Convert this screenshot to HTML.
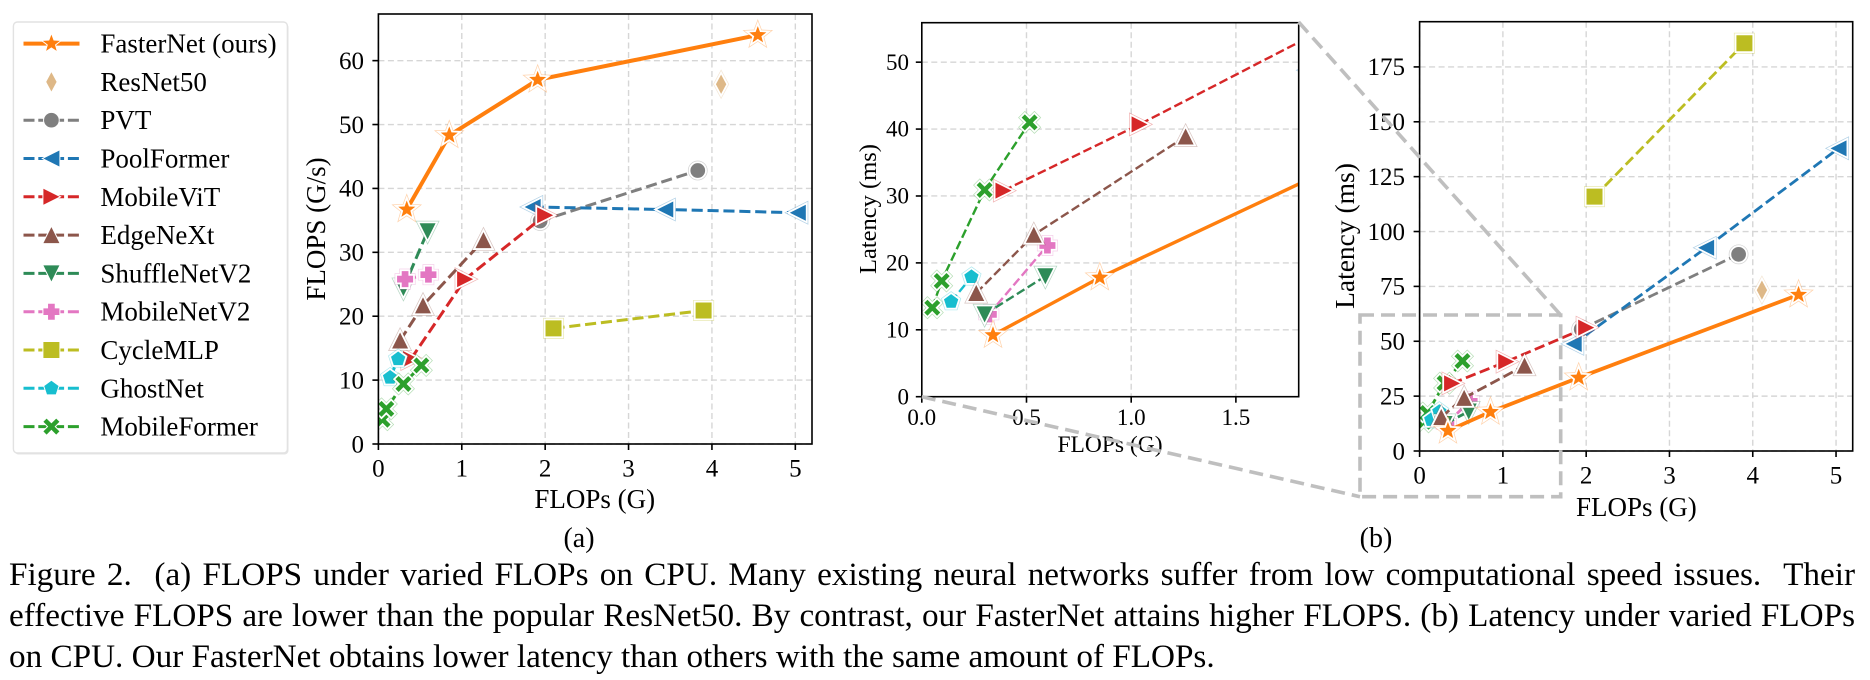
<!DOCTYPE html>
<html lang="en">
<head>
<meta charset="utf-8">
<title>FLOPS and latency under varied FLOPs</title>
<style>
  html, body { margin: 0; padding: 0; background: #fff; }
  #page { position: relative; width: 1870px; height: 680px; overflow: hidden; background: #fff; }
  #figure { position: absolute; left: 0; top: 0; }
  text { font-family: "Liberation Serif", serif; fill: #000; }
  .cap { position: absolute; left: 9px; width: 1846px; height: 41px; line-height: 41px; white-space: nowrap;
         font-family: "Liberation Serif", serif; font-size: 33.2px; color: #000; }
  .just { text-align: justify; text-align-last: justify; white-space: normal; }
</style>
</head>
<body>
<div id="page">
  <svg id="figure" width="1870" height="680" viewBox="0 0 1870 680" xmlns="http://www.w3.org/2000/svg"></svg>
  <div class="cap just" style="top:554px">Figure 2.&nbsp; (a) FLOPS under varied FLOPs on CPU. Many existing neural networks suffer from low computational speed issues.&nbsp; Their</div>
  <div class="cap just" style="top:595px;word-spacing:-4px">effective FLOPS are lower than the popular ResNet50. By contrast, our FasterNet attains higher FLOPS. (b) Latency under varied FLOPs</div>
  <div class="cap" style="top:636px">on CPU. Our FasterNet obtains lower latency than others with the same amount of FLOPs.</div>
</div>
<script>
// ---- Model names ----
const modelNames = ['FasterNet (ours)', 'ResNet50', 'PVT', 'PoolFormer', 'MobileViT', 'EdgeNeXt', 'ShuffleNetV2', 'MobileNetV2', 'CycleMLP', 'GhostNet', 'MobileFormer'];

// ---- FLOPs (G) per model ----
const flopsFasterNet = [0.34, 0.85, 1.91, 4.55];
const flopsResNet50 = [4.11];
const flopsPVT = [1.94, 3.83];
const flopsPoolFormer = [1.85, 3.44, 5.03];
const flopsMobileViT = [0.39, 1.04, 2.0];
const flopsEdgeNeXt = [0.26, 0.535, 1.26];
const flopsShuffleNetV2 = [0.3, 0.59];
const flopsMobileNetV2 = [0.32, 0.6];
const flopsCycleMLP = [2.1, 3.9];
const flopsGhostNet = [0.14, 0.237];
const flopsMobileFormer = [0.05, 0.095, 0.3, 0.515];

// ---- Panel (a): FLOPS (G/s) per model ----
const rateFasterNet = [36.7, 48.3, 57, 64];
const rateResNet50 = [56.3];
const ratePVT = [34.9, 42.8];
const ratePoolFormer = [37.1, 36.7, 36.2];
const rateMobileViT = [13.3, 25.8, 35.8];
const rateEdgeNeXt = [16.2, 21.7, 31.9];
const rateShuffleNetV2 = [24.4, 33.3];
const rateMobileNetV2 = [25.8, 26.5];
const rateCycleMLP = [18.1, 20.9];
const rateGhostNet = [10.4, 13.3];
const rateMobileFormer = [3.8, 5.5, 9.4, 12.3];

// ---- Panel (b): Latency (ms) per model ----
const latencyFasterNet = [9.2, 17.8, 33.4, 71.2];
const latencyResNet50 = [73.3];
const latencyPVT = [55.5, 89.6];
const latencyPoolFormer = [48.8, 92.6, 137.9];
const latencyMobileViT = [30.8, 40.7, 56.2];
const latencyEdgeNeXt = [15.5, 24.2, 38.9];
const latencyShuffleNetV2 = [12.3, 18];
const latencyMobileNetV2 = [12.3, 22.6];
const latencyCycleMLP = [115.9, 185.8];
const latencyGhostNet = [14.2, 17.9];
const latencyMobileFormer = [13.3, 17.3, 30.9, 41];

// ---- Tick labels ----
const panelAXTicks = [0, 1, 2, 3, 4, 5];
const panelAYTicks = [0, 10, 20, 30, 40, 50, 60];
const insetXTicks = [0, 0.5, 1.0, 1.5];
const insetXLabels = ['0.0', '0.5', '1.0', '1.5'];
const insetYTicks = [0, 10, 20, 30, 40, 50];
const panelBXTicks = [0, 1, 2, 3, 4, 5];
const panelBYTicks = [0, 25, 50, 75, 100, 125, 150, 175];

// ---- Styling of series ----
const colors = ['#ff7f0e', '#deb887', '#7f7f7f', '#1f77b4', '#d62728', '#8c564b', '#2e8b57', '#e377c2', '#bcbd22', '#17becf', '#2ca02c'];
const markers = ['star', 'diamond', 'circle', 'left', 'right', 'up', 'down', 'plus', 'square', 'pentagon', 'cross'];
const slugs = ['fasternet', 'resnet50', 'pvt', 'poolformer', 'mobilevit', 'edgenext', 'shufflenetv2', 'mobilenetv2', 'cyclemlp', 'ghostnet', 'mobileformer'];
const drawOrderA = [1, 0, 2, 3, 4, 5, 6, 7, 8, 9, 10];
const drawOrderB = [10, 9, 8, 7, 6, 2, 3, 4, 5, 1, 0];
const flopsAll = [flopsFasterNet, flopsResNet50, flopsPVT, flopsPoolFormer, flopsMobileViT, flopsEdgeNeXt, flopsShuffleNetV2, flopsMobileNetV2, flopsCycleMLP, flopsGhostNet, flopsMobileFormer];
const rateAll = [rateFasterNet, rateResNet50, ratePVT, ratePoolFormer, rateMobileViT, rateEdgeNeXt, rateShuffleNetV2, rateMobileNetV2, rateCycleMLP, rateGhostNet, rateMobileFormer];
const latencyAll = [latencyFasterNet, latencyResNet50, latencyPVT, latencyPoolFormer, latencyMobileViT, latencyEdgeNeXt, latencyShuffleNetV2, latencyMobileNetV2, latencyCycleMLP, latencyGhostNet, latencyMobileFormer];

const NS = 'http://www.w3.org/2000/svg';
const root = document.getElementById('figure');

function mk(tag, attrs, parent) {
  const el = document.createElementNS(NS, tag);
  for (const k in attrs) el.setAttribute(k, attrs[k]);
  (parent || root).appendChild(el);
  return el;
}

function polyPath(pts, cx, cy) {
  return 'M' + pts.map(p => (cx + p[0]).toFixed(2) + ' ' + (cy + p[1]).toFixed(2)).join('L') + 'Z';
}

function markerPath(kind, cx, cy, r) {
  if (kind === 'circle') {
    const c = r * 0.92;
    return 'M' + (cx - c) + ' ' + cy + 'A' + c + ' ' + c + ' 0 1 0 ' + (cx + c) + ' ' + cy + 'A' + c + ' ' + c + ' 0 1 0 ' + (cx - c) + ' ' + cy + 'Z';
  }
  let pts = [];
  if (kind === 'star') {
    const R = r * 1.12;
    for (let i = 0; i < 10; i++) {
      const a = -Math.PI / 2 + i * Math.PI / 5;
      const q = i % 2 ? R * 0.42 : R;
      pts.push([q * Math.cos(a), q * Math.sin(a)]);
    }
  } else if (kind === 'pentagon') {
    for (let i = 0; i < 5; i++) {
      const a = -Math.PI / 2 + i * 2 * Math.PI / 5;
      pts.push([r * 0.94 * Math.cos(a), r * 0.94 * Math.sin(a)]);
    }
  } else if (kind === 'diamond') {
    pts = [[0, -r * 1.2], [r * 0.65, 0], [0, r * 1.2], [-r * 0.65, 0]];
  } else if (kind === 'square') {
    pts = [[-r, -r], [r, -r], [r, r], [-r, r]];
  } else if (kind === 'up') {
    pts = [[0, -r], [r, r], [-r, r]];
  } else if (kind === 'down') {
    pts = [[0, r], [-r, -r], [r, -r]];
  } else if (kind === 'left') {
    pts = [[-r, 0], [r, -r], [r, r]];
  } else if (kind === 'right') {
    pts = [[r, 0], [-r, r], [-r, -r]];
  } else if (kind === 'plus') {
    const a = r * 0.42;
    pts = [[-a, -r], [a, -r], [a, -a], [r, -a], [r, a], [a, a], [a, r], [-a, r], [-a, a], [-r, a], [-r, -a], [-a, -a]];
  } else if (kind === 'cross') {
    const a = r * 0.4;
    pts = [[-r, -r + a], [-r + a, -r], [0, -a], [r - a, -r], [r, -r + a], [a, 0], [r, r - a], [r - a, r], [0, a], [-r + a, r], [-r, r - a], [-a, 0]];
  }
  return polyPath(pts, cx, cy);
}

function drawMarker(parent, kind, cx, cy, r, color, halo) {
  const d = markerPath(kind, cx, cy, r);
  const g = mk('g', {}, parent);
  if (halo) {
    mk('path', { d: d, fill: 'none', stroke: color, 'stroke-opacity': 0.35, 'stroke-width': 5, 'stroke-miterlimit': 6 }, g);
  }
  mk('path', { d: d, fill: color, stroke: '#fff', 'stroke-width': halo ? 3.6 : 2, 'stroke-miterlimit': 6 }, g);
  mk('path', { d: d, fill: color }, g);
  return g;
}

function label(parent, str, x, y, size, anchor, rotate) {
  const t = mk('text', { x: x, y: y, 'font-size': size, 'text-anchor': anchor || 'middle' }, parent);
  if (rotate) t.setAttribute('transform', 'rotate(-90 ' + x + ' ' + y + ')');
  t.textContent = str;
  return t;
}

function drawPanel(cfg) {
  const g = mk('g', {});
  
  
  const sx = v => cfg.left + v / cfg.xMax * (cfg.right - cfg.left);
  const sy = v => cfg.bottom - v / cfg.yMax * (cfg.bottom - cfg.top);

  const clipId = cfg.name + '-clip';
  const cp = mk('clipPath', { id: clipId }, g);
  mk('rect', { x: cfg.left, y: cfg.top, width: cfg.right - cfg.left, height: cfg.bottom - cfg.top }, cp);

  const gridG = mk('g', { stroke: '#d6d6d6', 'stroke-width': 1.4, 'stroke-dasharray': '6 3.5', fill: 'none' }, g);
  
  
  cfg.xTicks.forEach(v => {
    mk('line', { x1: sx(v), x2: sx(v), y1: cfg.top, y2: cfg.bottom }, gridG);
  });
  cfg.yTicks.forEach(v => {
    mk('line', { x1: cfg.left, x2: cfg.right, y1: sy(v), y2: sy(v) }, gridG);
  });

  const plot = mk('g', { 'clip-path': 'url(#' + clipId + ')' }, g);
  cfg.order.forEach(i => {
    const xs = flopsAll[i];
    const ys = cfg.values[i];
    const sg = mk('g', {}, plot);
    
    
    if (xs.length > 1) {
      const pts = xs.map((x, k) => sx(x).toFixed(2) + ',' + sy(ys[k]).toFixed(2)).join(' ');
      const solid = i === 0;
      const lw = solid ? cfg.solidWidth : cfg.dashWidth;
      const ln = mk('polyline', { points: pts, fill: 'none', stroke: colors[i], 'stroke-width': lw }, sg);
      if (!solid) ln.setAttribute('stroke-dasharray', (lw * 3.7).toFixed(1) + ' ' + (lw * 1.6).toFixed(1));
      
      
    }
    xs.forEach((x, k) => {
      const m = drawMarker(sg, markers[i], sx(x), sy(ys[k]), 8, colors[i], true);
      
      
    });
  });

  const axes = mk('g', { stroke: '#000', 'stroke-width': 1.6, fill: 'none' }, g);
  
  
  mk('rect', { x: cfg.left, y: cfg.top, width: cfg.right - cfg.left, height: cfg.bottom - cfg.top }, axes);
  cfg.xTicks.forEach((v, k) => {
    mk('line', { x1: sx(v), x2: sx(v), y1: cfg.bottom, y2: cfg.bottom + 6 }, axes);
    const t = label(g, cfg.xLabels ? cfg.xLabels[k] : String(v), sx(v), cfg.xTickY, cfg.tickSize);
    
    
  });
  cfg.yTicks.forEach(v => {
    mk('line', { x1: cfg.left - 6, x2: cfg.left, y1: sy(v), y2: sy(v) }, axes);
    const t = label(g, String(v), cfg.yTickX, sy(v) + cfg.tickSize * 0.33, cfg.tickSize, 'end');
    
    
  });

  const xt = label(g, cfg.xTitle, cfg.xTitlePos[0], cfg.xTitlePos[1], cfg.xTitleSize);
  
  
  const yt = label(g, cfg.yTitle, cfg.yTitlePos[0], cfg.yTitlePos[1], cfg.yTitleSize, 'middle', true);
  
  
}

drawPanel({
  name: 'panel-a-flops-chart', left: 378.4, right: 812, top: 14, bottom: 444, xMax: 5.2, yMax: 67.3,
  xTicks: panelAXTicks, yTicks: panelAYTicks, values: rateAll, order: drawOrderA,
  solidWidth: 4, dashWidth: 3, tickSize: 25, xTickY: 476.5, yTickX: 364,
  xTitle: 'FLOPs (G)', xTitlePos: [594.7, 508], xTitleSize: 27,
  yTitle: 'FLOPS (G/s)', yTitlePos: [325, 229], yTitleSize: 27
});

drawPanel({
  name: 'panel-b-latency-inset', left: 921.8, right: 1298.7, top: 22.7, bottom: 396.7, xMax: 1.8, yMax: 55.9,
  xTicks: insetXTicks, xLabels: insetXLabels, yTicks: insetYTicks, values: latencyAll, order: drawOrderB,
  solidWidth: 3.4, dashWidth: 2.4, tickSize: 23, xTickY: 425, yTickX: 909,
  xTitle: 'FLOPs (G)', xTitlePos: [1110, 452], xTitleSize: 23.5,
  yTitle: 'Latency (ms)', yTitlePos: [876, 209], yTitleSize: 24.5
});

drawPanel({
  name: 'panel-b-latency-chart', left: 1419.6, right: 1852.7, top: 21.7, bottom: 451, xMax: 5.2, yMax: 195.6,
  xTicks: panelBXTicks, yTicks: panelBYTicks, values: latencyAll, order: drawOrderB,
  solidWidth: 3.8, dashWidth: 2.8, tickSize: 25, xTickY: 483.5, yTickX: 1405,
  xTitle: 'FLOPs (G)', xTitlePos: [1636.4, 516], xTitleSize: 27,
  yTitle: 'Latency (ms)', yTitlePos: [1354, 236], yTitleSize: 27.5
});

// zoom indicator
const zoomG = mk('g', { fill: 'none', stroke: '#bfbfbf', 'stroke-width': 3.6, 'stroke-dasharray': '14 7' });


mk('rect', { x: 1360, y: 315, width: 200.7, height: 181.7 }, zoomG);
mk('line', { x1: 1298.6, y1: 22, x2: 1560.7, y2: 315 }, zoomG);
mk('line', { x1: 921.8, y1: 396.7, x2: 1360, y2: 496.7 }, zoomG);

// legend
const legendG = mk('g', {});


mk('rect', { x: 14.5, y: 23.5, width: 274, height: 431, rx: 4, fill: '#e4e4e4' }, legendG);
mk('rect', { x: 13.4, y: 22, width: 274, height: 431, rx: 4, fill: '#fff', stroke: '#e2e2e2', 'stroke-width': 1.4 }, legendG);
modelNames.forEach((name, i) => {
  const y = 43.6 + i * 38.3;
  const entry = mk('g', {}, legendG);
  
  
  if (i !== 1) {
    const ln = mk('line', { x1: 23.5, x2: 79.5, y1: y, y2: y, stroke: colors[i], 'stroke-width': i === 0 ? 4 : 3 }, entry);
    if (i !== 0) ln.setAttribute('stroke-dasharray', '11 3.8');
  }
  drawMarker(entry, markers[i], 51.4, y, 8, colors[i], false);
  label(entry, name, 100.4, y + 9, 27, 'start');
});

// sub-figure labels
const subA = label(root, '(a)', 579, 547, 28);


const subB = label(root, '(b)', 1376, 547, 28);


</script>
</body>
</html>
